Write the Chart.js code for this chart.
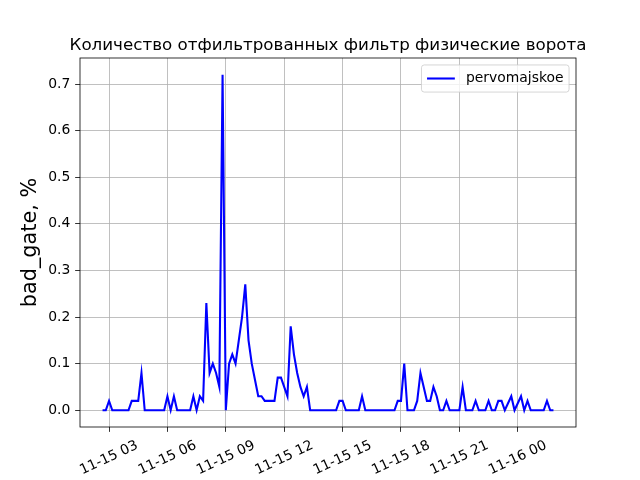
<!DOCTYPE html>
<html lang="ru">
<head>
  <meta charset="UTF-8">
  <title>bad_gate</title>
  <script src="https://cdn.jsdelivr.net/npm/chart.js"></script>
  <style>
    html, body { margin: 0; padding: 0; background: #fff; }
  </style>
</head>
<body>
  <canvas id="gateChart" width="640" height="480"></canvas>

  <script>
// data: minutes since 11-15 00:00 and value (%)
const seriesName = 'pervomajskoe';
const chartTitle = 'Количество отфильтрованных фильтр физические ворота';
const yTitle = 'bad_gate, %';

const minutes = [
  160, 170, 180, 190, 240, 250, 270, 280, 290, 350,
  360, 370, 380, 390, 430, 440, 450, 460, 470, 480,
  490, 500, 510, 520, 530, 540, 550, 560, 570, 580,
  590, 600, 610, 620, 630, 640, 650, 660, 690, 700,
  710, 730, 740, 750, 760, 770, 780, 790, 800, 880,
  890, 900, 910, 950, 960, 970, 1060, 1070, 1080, 1090,
  1100, 1120, 1130, 1140, 1150, 1160, 1170, 1180, 1190, 1200,
  1210, 1220, 1230, 1260, 1270, 1280, 1300, 1310, 1320, 1340,
  1350, 1360, 1370, 1380, 1390, 1400, 1420, 1430, 1450, 1460,
  1470, 1480, 1520, 1530, 1540, 1550
];
const badGate = [
  0, 0, 0.02, 0, 0, 0.02, 0.02, 0.08, 0, 0,
  0.03, 0, 0.03, 0, 0, 0.03, 0, 0.03, 0.02, 0.23,
  0.08, 0.10, 0.08, 0.05, 0.72, 0, 0.10, 0.12, 0.10, 0.15,
  0.20, 0.27, 0.15, 0.10, 0.065, 0.03, 0.03, 0.02, 0.02, 0.07,
  0.07, 0.03, 0.18, 0.12, 0.08, 0.05, 0.03, 0.05, 0, 0,
  0.02, 0.02, 0, 0, 0.03, 0, 0, 0.02, 0.02, 0.10,
  0, 0, 0.02, 0.08, 0.05, 0.02, 0.02, 0.05, 0.03, 0,
  0, 0.02, 0, 0, 0.05, 0, 0, 0.02, 0, 0,
  0.02, 0, 0, 0.02, 0.02, 0, 0.03, 0, 0.03, 0,
  0.02, 0, 0, 0.02, 0, 0
];

const xTickValues = [180, 360, 540, 720, 900, 1080, 1260, 1440];
const xTickLabels = ['11-15 03', '11-15 06', '11-15 09', '11-15 12', '11-15 15', '11-15 18', '11-15 21', '11-16 00'];
const yTickValues = [0, 0.1, 0.2, 0.3, 0.4, 0.5, 0.6, 0.7];

const FONT = '"DejaVu Sans", sans-serif';
const FS = 13.9;              // 10pt at 100 dpi
const LINE_BLUE = '#0000ff';

// 5% margins like matplotlib
const xSpan = minutes[minutes.length - 1] - minutes[0];
const xMin = minutes[0] - 0.05 * xSpan;
const xMax = minutes[minutes.length - 1] + 0.05 * xSpan;
const yTop = Math.max(...badGate);
const yMin = -0.05 * yTop;
const yMax = yTop + 0.05 * yTop;

const mplLook = {
  id: 'mplLook',
  afterDatasetsDraw(chart) {
    // four spines
    const a = chart.chartArea;
    const ctx = chart.ctx;
    ctx.save();
    ctx.strokeStyle = '#000';
    ctx.lineWidth = 0.8;
    ctx.strokeRect(a.left, a.top, a.right - a.left, a.bottom - a.top);
    ctx.restore();
  },
  afterDraw(chart) {
    const a = chart.chartArea;
    const ctx = chart.ctx;
    ctx.save();

    // title, centred over the axes
    ctx.fillStyle = '#000';
    ctx.font = '16.7px ' + FONT;
    ctx.textAlign = 'center';
    ctx.textBaseline = 'alphabetic';
    ctx.fillText(chartTitle, (a.left + a.right) / 2, a.top - 8.3);

    // rotated x tick labels, centred on the tick
    const xs = chart.scales.x;
    ctx.font = FS + 'px ' + FONT;
    ctx.textBaseline = 'middle';
    xTickValues.forEach((v, i) => {
      const px = xs.getPixelForValue(v);
      ctx.save();
      ctx.translate(px, a.bottom + 31);
      ctx.rotate(-25 * Math.PI / 180);
      ctx.fillText(xTickLabels[i], 0, 0);
      ctx.restore();
    });

    // legend box, upper right
    ctx.font = FS + 'px ' + FONT;
    const pad = 0.4 * FS, handle = 2 * FS, gap = 0.8 * FS;
    const tw = ctx.measureText(seriesName).width;
    const w = pad + handle + gap + tw + pad;
    const h = 2 * pad + 16;
    const right = a.right - 0.5 * FS;
    const top = a.top + 0.5 * FS;
    const left = right - w;
    ctx.beginPath();
    ctx.roundRect(left, top, w, h, 0.2 * FS);
    ctx.fillStyle = 'rgba(255,255,255,0.8)';
    ctx.fill();
    ctx.strokeStyle = 'rgba(204,204,204,0.8)';
    ctx.lineWidth = 1;
    ctx.stroke();
    const cy = top + h / 2;
    ctx.beginPath();
    ctx.moveTo(left + pad, cy);
    ctx.lineTo(left + pad + handle, cy);
    ctx.strokeStyle = LINE_BLUE;
    ctx.lineWidth = 2.08;
    ctx.stroke();
    ctx.fillStyle = '#000';
    ctx.textAlign = 'left';
    ctx.textBaseline = 'middle';
    ctx.fillText(seriesName, left + pad + handle + gap, cy);

    ctx.restore();
  }
};

const gridOpts = {
  color: '#b0b0b0',
  lineWidth: 0.8,
  drawTicks: true,
  tickLength: 4.86,
  tickColor: '#000',
  tickWidth: 0.8
};

new Chart(document.getElementById('gateChart').getContext('2d'), {
  type: 'line',
  data: {
    datasets: [{
      label: seriesName,
      data: minutes.map((m, i) => ({ x: m, y: badGate[i] })),
      borderColor: LINE_BLUE,
      borderWidth: 2.08,
      pointRadius: 0,
      tension: 0,
      fill: false
    }]
  },
  options: {
    responsive: false,
    animation: false,
    devicePixelRatio: 1,
    layout: { padding: { top: 58, right: 64, left: 0, bottom: 0 } },
    plugins: {
      legend: { display: false },
      title: { display: false },
      tooltip: { enabled: false }
    },
    scales: {
      x: {
        type: 'linear',
        min: xMin,
        max: xMax,
        afterBuildTicks: s => { s.ticks = xTickValues.map(v => ({ value: v })); },
        afterFit: s => { s.height = 53; },
        ticks: { display: false },
        grid: gridOpts,
        border: { display: false }
      },
      y: {
        min: yMin,
        max: yMax,
        afterBuildTicks: s => { s.ticks = yTickValues.map(v => ({ value: v })); },
        afterFit: s => { s.width = 80; },
        ticks: {
          autoSkip: false,
          padding: 4.86,
          color: '#000',
          font: { family: FONT, size: FS },
          callback: v => v.toFixed(1)
        },
        grid: gridOpts,
        border: { display: false },
        title: {
          display: true,
          text: yTitle,
          color: '#000',
          font: { family: FONT, size: 20.8 },
          padding: { top: 18.5, bottom: 0 }
        }
      }
    }
  },
  plugins: [mplLook]
});
  </script>
</body>
</html>
